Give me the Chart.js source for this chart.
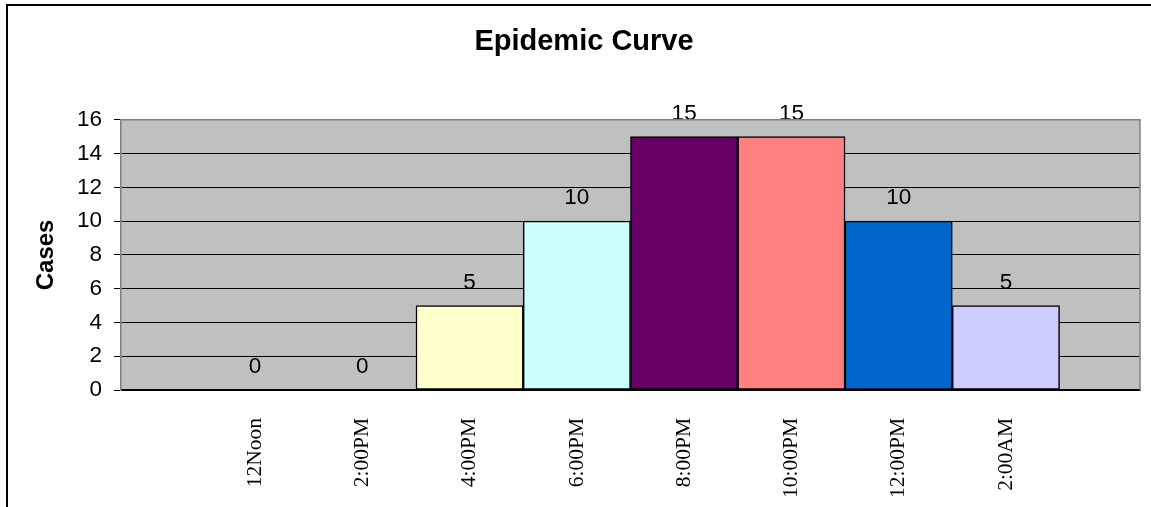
<!DOCTYPE html>
<html>
<head>
<meta charset="utf-8">
<script src="https://cdn.jsdelivr.net/npm/chart.js@4/dist/chart.umd.min.js"></script>
<style>
  html, body { margin: 0; padding: 0; background: #ffffff; }
  #wrap { width: 1151px; height: 507px; position: relative; }
</style>
</head>
<body>
<div id="wrap"><canvas id="epi"></canvas></div>
<script>
// data
const timeSlots = ['12Noon', '2:00PM', '4:00PM', '6:00PM', '8:00PM', '10:00PM', '12:00PM', '2:00AM'];
const cases = [0, 0, 5, 10, 15, 15, 10, 5];
const barColors = ['#9999FF', '#993366', '#FFFFCC', '#CCFFFF', '#660066', '#FF8080', '#0066CC', '#CCCCFF'];
const yTicks = [0, 2, 4, 6, 8, 10, 12, 14, 16];

// distance from plot edge to the nearest bar centre, in category widths
const sidePad = 1.25;

// gray plot background, plot frame and outer chart frame
const framePlugin = {
  id: 'frame',
  beforeDraw(chart) {
    const { ctx, chartArea: a } = chart;
    ctx.save();
    ctx.fillStyle = '#C0C0C0';
    ctx.fillRect(a.left, a.top, a.right - a.left, a.bottom - a.top);
    ctx.restore();
  },
  afterDraw(chart) {
    const { ctx, chartArea: a } = chart;
    ctx.save();
    ctx.strokeStyle = '#808080';
    ctx.lineWidth = 1.5;
    ctx.beginPath();
    ctx.moveTo(a.left, a.top);
    ctx.lineTo(a.right, a.top);
    ctx.lineTo(a.right, a.bottom);
    ctx.stroke();
    // outer chart border (runs off the right and bottom)
    ctx.strokeStyle = '#000000';
    ctx.lineWidth = 2;
    ctx.beginPath();
    ctx.moveTo(7, chart.height + 5);
    ctx.lineTo(7, 5);
    ctx.lineTo(chart.width + 5, 5);
    ctx.stroke();
    ctx.restore();
  }
};

// value labels above each bar
const valueLabels = {
  id: 'valueLabels',
  afterDatasetsDraw(chart) {
    const { ctx } = chart;
    const meta = chart.getDatasetMeta(0);
    ctx.save();
    ctx.font = '22.5px "Liberation Sans", Arial, sans-serif';
    ctx.fillStyle = '#000000';
    ctx.textAlign = 'center';
    ctx.textBaseline = 'alphabetic';
    meta.data.forEach((bar, i) => {
      ctx.fillText(String(cases[i]), bar.x, bar.y - 17);
    });
    ctx.restore();
  }
};

new Chart(document.getElementById('epi'), {
  type: 'bar',
  data: {
    datasets: [{
      data: cases.map((v, i) => ({ x: i, y: v })),
      backgroundColor: barColors,
      borderColor: '#000000',
      borderWidth: 1.5,
      borderSkipped: false,
      barPercentage: 1,
      categoryPercentage: 1
    }]
  },
  options: {
    responsive: true,
    maintainAspectRatio: false,
    animation: false,
    layout: { padding: { left: 28, right: 11, top: 0, bottom: 0 } },
    plugins: {
      legend: { display: false },
      tooltip: { enabled: false },
      title: {
        display: true,
        text: 'Epidemic Curve',
        color: '#000000',
        font: { family: '"Liberation Sans", Arial, sans-serif', size: 29, weight: 'bold', lineHeight: 1.2 },
        padding: { top: 25, bottom: 60 }
      }
    },
    scales: {
      x: {
        type: 'linear',
        offset: false,
        min: -sidePad,
        max: timeSlots.length - 1 + sidePad,
        afterFit(scale) { scale.height = 117; },
        grid: { display: false, drawTicks: false, offset: false },
        border: { display: true, color: '#000000', width: 1.5 },
        ticks: {
          stepSize: 1,
          includeBounds: false,
          autoSkip: false,
          minRotation: 90,
          maxRotation: 90,
          padding: 28,
          color: '#000000',
          font: { family: '"Liberation Serif", "Times New Roman", serif', size: 21.5 },
          callback(value) {
            return Number.isInteger(value) ? timeSlots[value] : '';
          }
        }
      },
      y: {
        min: yTicks[0],
        max: yTicks[yTicks.length - 1],
        afterFit(scale) { scale.width = 93; },
        afterBuildTicks(scale) { scale.ticks = yTicks.map(v => ({ value: v })); },
        grid: { color: '#000000', lineWidth: 1, tickLength: 7, drawTicks: true },
        border: { display: true, color: '#808080', width: 1.5 },
        ticks: {
          padding: 12,
          color: '#000000',
          font: { family: '"Liberation Sans", Arial, sans-serif', size: 22.5 }
        },
        title: {
          display: true,
          text: 'Cases',
          color: '#000000',
          font: { family: '"Liberation Sans", Arial, sans-serif', size: 24, weight: 'bold' },
          padding: { top: 4, bottom: 0 }
        }
      }
    }
  },
  plugins: [framePlugin, valueLabels]
});
</script>
</body>
</html>
